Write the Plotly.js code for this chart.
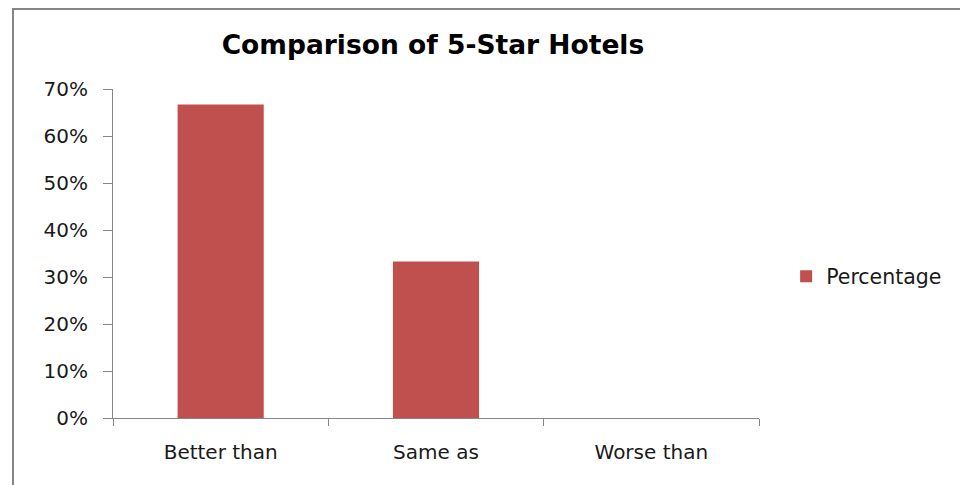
<!DOCTYPE html>
<html>
<head>
<meta charset="utf-8">
<script src="https://cdn.plot.ly/plotly-3.0.1.min.js"></script>
<style>
html,body{margin:0;padding:0;background:#fff;overflow:hidden;}
#wrap{position:relative;width:960px;height:485px;}
#chart{position:absolute;left:0;top:0;width:960px;height:485px;}
#frame{position:absolute;left:12px;top:8px;width:960px;height:500px;border:2px solid #858585;box-sizing:border-box;pointer-events:none;}
</style>
</head>
<body>
<div id="wrap"><div id="chart"></div><div id="frame"></div></div>
<script>
const categories = ["Better than", "Same as", "Worse than"];
const percentage = [0.667, 0.333, 0];
const seriesName = "Percentage";
const titleText = "Comparison of 5-Star Hotels";

const font = "'DejaVu Sans', sans-serif";
Plotly.newPlot("chart", [{
  type: "bar",
  x: categories,
  y: percentage,
  name: seriesName,
  marker: {color: "#C0504D"},
  width: 0.4,
  showlegend: true,
  hoverinfo: "none"
}], {
  width: 960, height: 485,
  margin: {l: 113, r: 201, t: 89, b: 67},
  paper_bgcolor: "rgba(0,0,0,0)",
  plot_bgcolor: "#fff",
  title: {text: "<b>" + titleText + "</b>", font: {family: font, size: 26.5, color: "#000"}, x: 0.451, xanchor: "center", y: 0.907, yanchor: "middle"},
  xaxis: {
    showgrid: false, showline: true, linecolor: "#868686", linewidth: 1,
    ticks: "outside", tickson: "boundaries", ticklen: 7, tickcolor: "#868686",
    ticklabelstandoff: 16,
    tickfont: {family: font, size: 20, color: "#1a1a1a"}, fixedrange: true
  },
  yaxis: {
    range: [0, 0.7], dtick: 0.1, tickformat: ".0%",
    showgrid: false, showline: true, linecolor: "#868686", linewidth: 1,
    ticks: "outside", ticklen: 9, tickcolor: "#868686",
    ticklabelstandoff: 11,
    tickfont: {family: font, size: 20, color: "#1a1a1a"}, zeroline: false, fixedrange: true
  },
  showlegend: true,
  legend: {x: 1.042, xanchor: "left", y: 0.43, yanchor: "middle", font: {family: font, size: 20.5, color: "#1a1a1a"}, itemwidth: 30}
}, {displayModeBar: false, staticPlot: true});
</script>
</body>
</html>
